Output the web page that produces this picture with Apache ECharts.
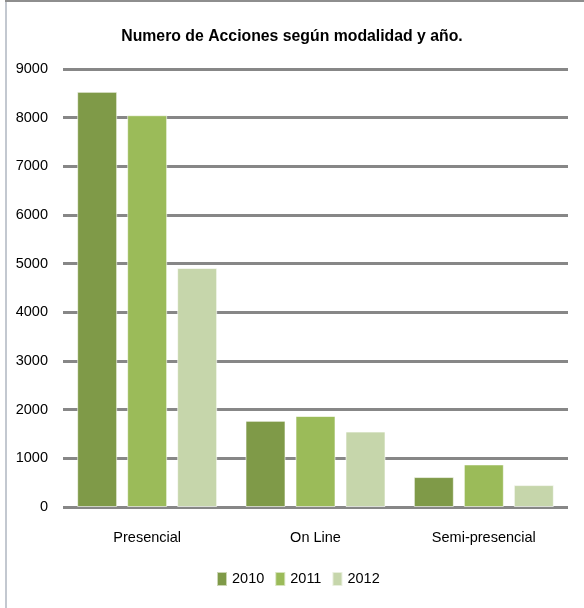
<!DOCTYPE html>
<html><head><meta charset="utf-8">
<script src="https://cdn.jsdelivr.net/npm/echarts@6/dist/echarts.min.js"></script>
<style>html,body{margin:0;padding:0;background:#fff}#c{width:584px;height:608px}</style>
</head><body><div id="c"></div>
<script>
const categories = ['Presencial', 'On Line', 'Semi-presencial'];
const years = ['2010', '2011', '2012'];
const v2010 = [8530, 1770, 615];
const v2011 = [8050, 1870, 875];
const v2012 = [4910, 1550, 450];
const yTicks = [0, 1000, 2000, 3000, 4000, 5000, 6000, 7000, 8000, 9000];
const colors = ['#7F9A48', '#9BBB59', '#C6D6AB'];
const FONT = '"Liberation Sans", sans-serif';
const chart = echarts.init(document.getElementById('c'), null, {renderer: 'canvas'});
const values = [v2010, v2011, v2012];
chart.setOption({
  animation: false,
  backgroundColor: '#fff',
  title: {text: 'Numero de Acciones según modalidad y año.', left: 'center', top: 24,
    textStyle: {fontFamily: FONT, fontWeight: 'bold', fontSize: 15.8, color: '#000'}},
  legend: {bottom: 16, left: 211, itemWidth: 10, itemHeight: 14, itemGap: 10,
    icon: 'rect', textStyle: {fontFamily: FONT, fontSize: 14.5, color: '#000'}},
  grid: {left: 63, right: 16, top: 69, bottom: 101},
  xAxis: {type: 'category', data: categories,
    axisLine: {show: false}, axisTick: {show: false},
    axisLabel: {fontFamily: FONT, fontSize: 14.5, color: '#000', margin: 23}},
  yAxis: {type: 'value', min: yTicks[0], max: yTicks[yTicks.length - 1], interval: 1000,
    axisLine: {show: false}, axisTick: {show: false},
    axisLabel: {fontFamily: FONT, fontSize: 14.5, color: '#000', margin: 15,
      formatter: v => String(v)},
    splitLine: {lineStyle: {color: '#878787', width: 3}}},
  series: years.map((y, i) => ({
    name: y, type: 'bar', data: values[i], barWidth: 40, barGap: '25%',
    itemStyle: {color: colors[i], borderColor: 'rgba(255,255,255,0.6)', borderWidth: 1}
  })),
  graphic: [
    {type: 'rect', shape: {x: 5, y: 0, width: 2, height: 608}, style: {fill: '#C3C8D0'}},
    {type: 'rect', shape: {x: 5, y: 0, width: 579, height: 2}, style: {fill: '#8E8E8E'}}
  ]
});
</script></body></html>
